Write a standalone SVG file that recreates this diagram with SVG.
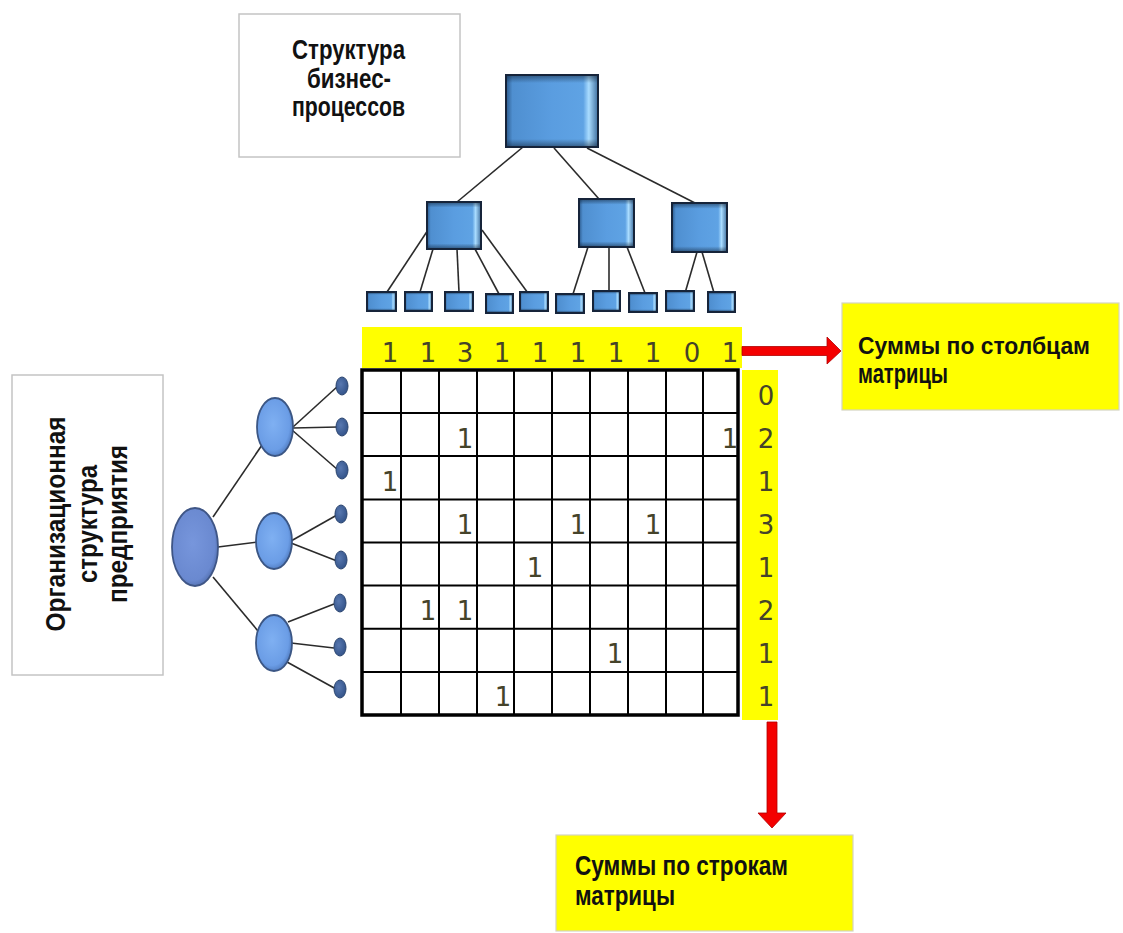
<svg xmlns="http://www.w3.org/2000/svg" width="1123" height="933" viewBox="0 0 1123 933">
<defs>
<linearGradient id="boxG" x1="0" y1="0" x2="1" y2="0">
<stop offset="0" stop-color="#2c5a8c"/>
<stop offset="0.07" stop-color="#4f8fd0"/>
<stop offset="0.5" stop-color="#5a9de0"/>
<stop offset="0.84" stop-color="#5fa3e4"/>
<stop offset="0.9" stop-color="#a9dcff"/>
<stop offset="1" stop-color="#3f6f9f"/>
</linearGradient>
<linearGradient id="boxV" x1="0" y1="0" x2="0" y2="1">
<stop offset="0" stop-color="#0b1a2c" stop-opacity="0.45"/>
<stop offset="0.1" stop-color="#0b1a2c" stop-opacity="0"/>
<stop offset="0.9" stop-color="#0b1a2c" stop-opacity="0"/>
<stop offset="1" stop-color="#0b1a2c" stop-opacity="0.45"/>
</linearGradient>
<radialGradient id="cirG" cx="0.45" cy="0.45" r="0.6">
<stop offset="0" stop-color="#7fb0f2"/>
<stop offset="0.75" stop-color="#6b9de6"/>
<stop offset="1" stop-color="#4a74b8"/>
</radialGradient>
<radialGradient id="bigG" cx="0.45" cy="0.45" r="0.6">
<stop offset="0" stop-color="#7796dc"/>
<stop offset="0.8" stop-color="#6a89d0"/>
<stop offset="1" stop-color="#4d6aa8"/>
</radialGradient>
<radialGradient id="dotG" cx="0.4" cy="0.4" r="0.7">
<stop offset="0" stop-color="#5878b0"/>
<stop offset="1" stop-color="#2f4f85"/>
</radialGradient>
</defs>
<style>
.lbl{font-family:"Liberation Sans",Arial,sans-serif;font-weight:bold;font-size:27px;fill:#111;}
.lbs{font-size:24px;}
.num{font-family:"DejaVu Sans","Liberation Sans",sans-serif;font-size:26px;fill:#45432a;text-anchor:middle;}
.wbox{fill:#ffffff;stroke:#c4c4c4;stroke-width:1.5;}
.ybox{fill:#ffff00;stroke:#d4d4c0;stroke-width:1.2;}
.box{fill:url(#boxG);stroke:#16243a;stroke-width:2;}
.shade{fill:url(#boxV);}
.cir{fill:url(#cirG);stroke:#3b5684;stroke-width:1.8;}
.big{fill:url(#bigG);stroke:#3f5686;stroke-width:1.8;}
.dot{fill:url(#dotG);stroke:#2c4670;stroke-width:1;}
.ln{stroke:#2b2b2b;stroke-width:1.6;fill:none;}
.grid{stroke:#000;stroke-width:2;fill:none;}
.arr{fill:#f40000;stroke:#b00000;stroke-width:0.8;}
</style>
<rect x="0" y="0" width="1123" height="933" fill="#ffffff"/>

<g id="label-business">
<rect class="wbox" x="239" y="14" width="221" height="143"/>
<text class="lbl" x="348.5" y="59" text-anchor="middle" textLength="113" lengthAdjust="spacingAndGlyphs">Структура</text>
<text class="lbl" x="349" y="88" text-anchor="middle" textLength="84" lengthAdjust="spacingAndGlyphs">бизнес-</text>
<text class="lbl" x="348.5" y="116" text-anchor="middle" textLength="113" lengthAdjust="spacingAndGlyphs">процессов</text>
</g>

<g id="label-org">
<rect class="wbox" x="12" y="375" width="151" height="300"/>
<text class="lbl" transform="translate(65,524) rotate(-90)" text-anchor="middle" textLength="215" lengthAdjust="spacingAndGlyphs">Организационная</text>
<text class="lbl" transform="translate(97,524) rotate(-90)" text-anchor="middle" textLength="118" lengthAdjust="spacingAndGlyphs">структура</text>
<text class="lbl" transform="translate(127,524) rotate(-90)" text-anchor="middle" textLength="158" lengthAdjust="spacingAndGlyphs">предприятия</text>
</g>

<g id="connectors">
<line class="ln" x1="523" y1="147" x2="457" y2="202"/>
<line class="ln" x1="554" y1="148" x2="599" y2="199"/>
<line class="ln" x1="587" y1="148" x2="695" y2="203"/>
<line class="ln" x1="428" y1="230" x2="387" y2="292"/>
<line class="ln" x1="433" y1="249" x2="420" y2="292"/>
<line class="ln" x1="457" y1="249" x2="459" y2="292"/>
<line class="ln" x1="475" y1="249" x2="499" y2="294"/>
<line class="ln" x1="482" y1="230" x2="533" y2="300"/>
<line class="ln" x1="588" y1="247" x2="573" y2="294"/>
<line class="ln" x1="609" y1="247" x2="609" y2="292"/>
<line class="ln" x1="627" y1="247" x2="645" y2="293"/>
<line class="ln" x1="697" y1="252" x2="683" y2="300"/>
<line class="ln" x1="702" y1="252" x2="717" y2="303"/>
<line class="ln" x1="213" y1="517" x2="262" y2="445"/>
<line class="ln" x1="218" y1="547" x2="258" y2="542"/>
<line class="ln" x1="213" y1="577" x2="263" y2="637"/>
<line class="ln" x1="293" y1="427" x2="338" y2="386"/>
<line class="ln" x1="293" y1="428" x2="338" y2="427"/>
<line class="ln" x1="292" y1="430" x2="338" y2="470"/>
<line class="ln" x1="291" y1="541" x2="337" y2="515"/>
<line class="ln" x1="291" y1="543" x2="337" y2="561"/>
<line class="ln" x1="288" y1="622" x2="334" y2="604"/>
<line class="ln" x1="291" y1="643" x2="334" y2="648"/>
<line class="ln" x1="287" y1="662" x2="336" y2="689"/>
</g>

<g id="bp-root"><rect class="box" x="506" y="75" width="92" height="72"/><rect class="shade" x="507" y="76" width="90" height="70"/></g>
<g id="bp-a"><rect class="box" x="427" y="202" width="54" height="47"/><rect class="shade" x="428" y="203" width="52" height="45"/></g>
<g id="bp-b"><rect class="box" x="579" y="199" width="55" height="48"/><rect class="shade" x="580" y="200" width="53" height="46"/></g>
<g id="bp-c"><rect class="box" x="672" y="203" width="55" height="49"/><rect class="shade" x="673" y="204" width="53" height="47"/></g>
<g id="bp-a1"><rect class="box" x="367" y="292" width="29" height="19"/><rect class="shade" x="368" y="293" width="27" height="17"/></g>
<g id="bp-a2"><rect class="box" x="405" y="292" width="27" height="19"/><rect class="shade" x="406" y="293" width="25" height="17"/></g>
<g id="bp-a3"><rect class="box" x="445" y="292" width="28" height="19"/><rect class="shade" x="446" y="293" width="26" height="17"/></g>
<g id="bp-a4"><rect class="box" x="486" y="294" width="27" height="19"/><rect class="shade" x="487" y="295" width="25" height="17"/></g>
<g id="bp-a5"><rect class="box" x="520" y="292" width="28" height="19"/><rect class="shade" x="521" y="293" width="26" height="17"/></g>
<g id="bp-b1"><rect class="box" x="556" y="294" width="28" height="19"/><rect class="shade" x="557" y="295" width="26" height="17"/></g>
<g id="bp-b2"><rect class="box" x="593" y="291" width="27" height="20"/><rect class="shade" x="594" y="292" width="25" height="18"/></g>
<g id="bp-b3"><rect class="box" x="629" y="293" width="28" height="19"/><rect class="shade" x="630" y="294" width="26" height="17"/></g>
<g id="bp-c1"><rect class="box" x="666" y="291" width="28" height="20"/><rect class="shade" x="667" y="292" width="26" height="18"/></g>
<g id="bp-c2"><rect class="box" x="708" y="292" width="27" height="20"/><rect class="shade" x="709" y="293" width="25" height="18"/></g>

<g id="org-root"><ellipse class="big" cx="195" cy="547" rx="23" ry="39"/></g>
<g id="org-1"><ellipse class="cir" cx="275" cy="427" rx="18" ry="29"/></g>
<g id="org-2"><ellipse class="cir" cx="274" cy="541" rx="18" ry="28"/></g>
<g id="org-3"><ellipse class="cir" cx="274" cy="643" rx="18" ry="28"/></g>
<g id="org-d1"><ellipse class="dot" cx="342" cy="386" rx="6" ry="9"/></g>
<g id="org-d2"><ellipse class="dot" cx="342" cy="427" rx="6" ry="9"/></g>
<g id="org-d3"><ellipse class="dot" cx="342" cy="470" rx="6" ry="9"/></g>
<g id="org-d4"><ellipse class="dot" cx="341" cy="514" rx="6" ry="9"/></g>
<g id="org-d5"><ellipse class="dot" cx="341" cy="560" rx="6" ry="9"/></g>
<g id="org-d6"><ellipse class="dot" cx="340" cy="603" rx="6" ry="9"/></g>
<g id="org-d7"><ellipse class="dot" cx="340" cy="647" rx="6" ry="9"/></g>
<g id="org-d8"><ellipse class="dot" cx="340" cy="689" rx="6" ry="9"/></g>

<g id="col-sums">
<rect x="362" y="327" width="380" height="41" fill="#ffff00"/>
<text class="num" x="390" y="362">1</text>
<text class="num" x="428" y="362">1</text>
<text class="num" x="465" y="362">3</text>
<text class="num" x="502" y="362">1</text>
<text class="num" x="540" y="362">1</text>
<text class="num" x="578" y="362">1</text>
<text class="num" x="616" y="362">1</text>
<text class="num" x="653" y="362">1</text>
<text class="num" x="692" y="362">0</text>
<text class="num" x="730" y="362">1</text>
</g>

<g id="row-sums">
<rect x="742" y="370" width="36" height="350" fill="#ffff00"/>
<text class="num" x="766" y="405">0</text>
<text class="num" x="766" y="448">2</text>
<text class="num" x="766" y="491">1</text>
<text class="num" x="766" y="534">3</text>
<text class="num" x="766" y="577">1</text>
<text class="num" x="766" y="620">2</text>
<text class="num" x="766" y="663">1</text>
<text class="num" x="766" y="706">1</text>
</g>

<g id="matrix">
<rect x="362" y="370" width="376" height="345" fill="#ffffff"/>
<path class="grid" d="M401 370V715M439 370V715M477 370V715M514 370V715M552 370V715M590 370V715M628 370V715M666 370V715M703 370V715M362 413H738M362 456H738M362 499.5H738M362 542.5H738M362 585.5H738M362 628.7H738M362 672H738"/>
<rect x="362" y="370" width="376" height="345" fill="none" stroke="#000" stroke-width="3.5"/>
<text class="num" x="465" y="448">1</text>
<text class="num" x="730" y="448">1</text>
<text class="num" x="390" y="491">1</text>
<text class="num" x="465" y="534">1</text>
<text class="num" x="578" y="534">1</text>
<text class="num" x="653" y="534">1</text>
<text class="num" x="535" y="577">1</text>
<text class="num" x="428" y="620">1</text>
<text class="num" x="465" y="620">1</text>
<text class="num" x="615" y="663">1</text>
<text class="num" x="503" y="706">1</text>
</g>

<g id="arrows">
<polygon class="arr" points="742,346.5 827,346.5 827,337 841,351 827,364 827,355.5 742,355.5"/>
<polygon class="arr" points="767,722 777,722 777,813 786,813 772,828 758,813 767,813"/>
</g>

<g id="label-col-sums">
<rect class="ybox" x="842" y="303" width="277" height="107"/>
<text class="lbl lbs" x="858" y="354" textLength="232" lengthAdjust="spacingAndGlyphs">Суммы по столбцам</text>
<text class="lbl" x="858" y="383" textLength="90" lengthAdjust="spacingAndGlyphs">матрицы</text>
</g>

<g id="label-row-sums">
<rect class="ybox" x="556" y="835" width="297" height="96"/>
<text class="lbl" x="575" y="875" textLength="213" lengthAdjust="spacingAndGlyphs">Суммы по строкам</text>
<text class="lbl" x="575" y="905" textLength="100" lengthAdjust="spacingAndGlyphs">матрицы</text>
</g>
</svg>
